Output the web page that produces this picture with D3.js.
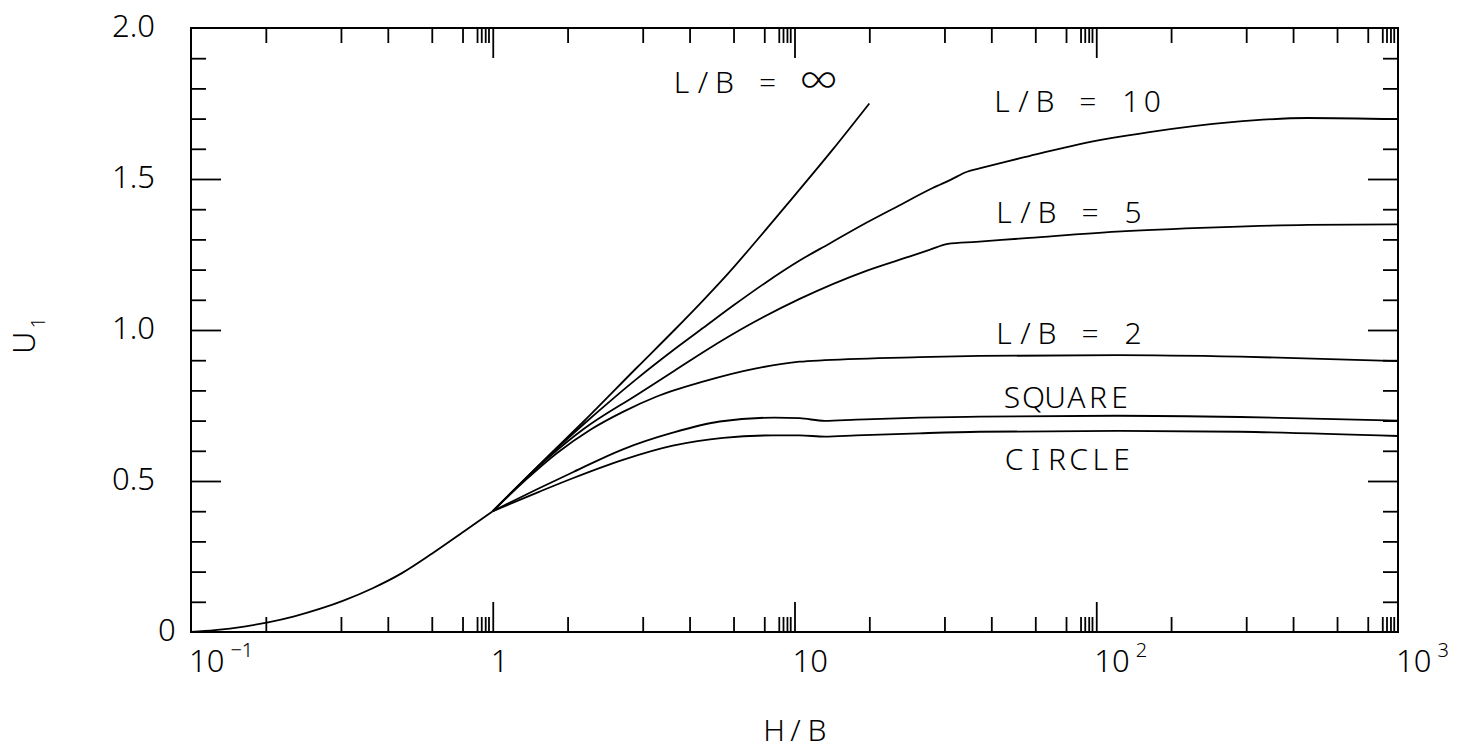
<!DOCTYPE html>
<html>
<head>
<meta charset="utf-8">
<script src="https://cdn.jsdelivr.net/npm/d3@7"></script>
<style>
  body { margin: 0; background: #fff; }
  text { font-family: "Noto Sans", "DejaVu Sans", sans-serif; font-weight: 300; fill: #000; }
  tspan.sym { font-family: Inter, Lato, "DejaVu Sans", sans-serif; font-weight: 200; }
</style>
</head>
<body>
<div id="chart"></div>
<script>
// common stem, H/B < 1
const stemHB = [0.1, 0.12, 0.15, 0.18, 0.22, 0.27, 0.32, 0.4, 0.5, 0.63, 0.8, 1];
const stemU  = [0, 0.006, 0.018, 0.032, 0.052, 0.078, 0.104, 0.145, 0.195, 0.26, 0.332, 0.4];

// branches, H/B >= 1
const infHB  = [1, 1.5, 2, 3, 4, 5, 6, 8, 10, 13.4, 17.7];
const infU   = [0.4, 0.575, 0.697, 0.875, 1.0, 1.1, 1.185, 1.33, 1.445, 1.598, 1.75];

const lb10HB = [1, 1.5, 2, 2.5, 3, 4, 5, 6.25, 8, 10.4, 13, 17.3, 22, 28.7, 33, 37.3, 41, 50, 60, 87.5, 150, 281, 500, 1000];
const lb10U  = [0.4, 0.574, 0.688, 0.772, 0.838, 0.936, 1.008, 1.08, 1.156, 1.23, 1.285, 1.355, 1.41, 1.47, 1.498, 1.524, 1.535, 1.557, 1.576, 1.615, 1.655, 1.688, 1.702, 1.698];

const lb5HB  = [1, 1.5, 2, 3, 4, 5.1, 7.1, 10.4, 17.3, 24, 28, 32.2, 40, 60, 117, 250, 502, 1000];
const lb5U   = [0.4, 0.57, 0.672, 0.785, 0.865, 0.933, 1.018, 1.103, 1.196, 1.243, 1.265, 1.285, 1.292, 1.305, 1.326, 1.34, 1.348, 1.35];

const lb2HB  = [1, 1.3, 1.63, 2.1, 2.7, 3.48, 4.97, 7.47, 10.4, 12.6, 25.9, 41, 117, 300, 1000];
const lb2U   = [0.4, 0.508, 0.592, 0.669, 0.729, 0.779, 0.829, 0.873, 0.895, 0.90, 0.91, 0.914, 0.917, 0.912, 0.897];

const sqHB   = [1, 1.43, 1.85, 2.7, 3.95, 5.65, 8.59, 10.4, 12.6, 16, 25.9, 41, 117, 300, 1000];
const sqU    = [0.4, 0.477, 0.53, 0.605, 0.66, 0.697, 0.71, 0.708, 0.699, 0.703, 0.71, 0.713, 0.716, 0.712, 0.70];

const ciHB   = [1, 1.43, 1.85, 2.7, 3.95, 5.8, 8.5, 10.4, 12.6, 16, 25.9, 41, 117, 300, 1000];
const ciU    = [0.4, 0.465, 0.51, 0.57, 0.617, 0.643, 0.651, 0.651, 0.647, 0.651, 0.658, 0.663, 0.666, 0.663, 0.649];

const seriesNames = ["L/B = ∞", "L/B = 10", "L/B = 5", "L/B = 2", "SQUARE", "CIRCLE"];
const labelHB = [3.92, 45.2, 45.9, 45.9, 48.8, 49.6];
const labelU  = [1.785, 1.722, 1.354, 0.954, 0.742, 0.536];

const yTicks = [0, 0.5, 1.0, 1.5, 2.0];
const yTickLabels = ["0", "0.5", "1.0", "1.5", "2.0"];
const yMinor = [0.1, 0.2, 0.3, 0.4, 0.6, 0.7, 0.8, 0.9, 1.1, 1.2, 1.3, 1.4, 1.6, 1.7, 1.8, 1.9];
const xDecades = [0.1, 1, 10, 100, 1000];
const xBase = ["10", "1", "10", "10", "10"];
const xExp  = ["−1", "", "", "2", "3"];
const minorSteps = [1.77, 3.14, 4.49, 6.28, 7.94, 8.87, 9.16, 9.44, 9.68];

const W = 1457, H = 750;
const CELL = 21.5;   // fixed character pitch of the plotter lettering
const svg = d3.select("#chart").append("svg")
    .attr("width", W)
    .attr("height", H)
    .style("display", "block");

const x = d3.scaleLog().domain([0.1, 1000]).range([191, 1398]);
const y = d3.scaleLinear().domain([0, 2]).range([632, 28]);

const xMinor = [];
xDecades.slice(0, 4).forEach(d => minorSteps.forEach(m => xMinor.push(d * m)));
const xMajorInner = [1, 10, 100];
const yMajorInner = [0.5, 1.0, 1.5];

function tickAxis(axis, vals, len) {
    return axis.tickValues(vals).tickSizeInner(-len).tickSizeOuter(0).tickFormat("");
}

const axes = [
    [d3.axisBottom(x), xMinor, 15, "translate(0,632)"],
    [d3.axisBottom(x), xMajorInner, 30, "translate(0,632)"],
    [d3.axisTop(x), xMinor, 15, "translate(0,28)"],
    [d3.axisTop(x), xMajorInner, 30, "translate(0,28)"],
    [d3.axisLeft(y), yMinor, 15, "translate(191,0)"],
    [d3.axisLeft(y), yMajorInner, 30, "translate(191,0)"],
    [d3.axisRight(y), yMinor, 15, "translate(1398,0)"],
    [d3.axisRight(y), yMajorInner, 30, "translate(1398,0)"]
];
axes.forEach(([ax, vals, len, tr]) => {
    const g = svg.append("g").attr("transform", tr).call(tickAxis(ax, vals, len));
    g.select(".domain").remove();
    g.selectAll(".tick line").attr("stroke", "#000").attr("stroke-width", 1.8);
});

// frame
svg.append("rect")
    .attr("x", x(0.1)).attr("y", y(2))
    .attr("width", x(1000) - x(0.1))
    .attr("height", y(0) - y(2))
    .attr("fill", "none")
    .attr("stroke", "#000")
    .attr("stroke-width", 2);

// curves
const line = d3.line()
    .x(d => x(d[0]))
    .y(d => y(d[1]))
    .curve(d3.curveMonotoneX);

const curves = [
    [stemHB, stemU],
    [infHB, infU],
    [lb10HB, lb10U],
    [lb5HB, lb5U],
    [lb2HB, lb2U],
    [sqHB, sqU],
    [ciHB, ciU]
];
svg.selectAll(".curve")
    .data(curves)
    .enter().append("path")
    .attr("class", "curve")
    .attr("d", c => line(d3.zip(c[0], c[1])))
    .attr("fill", "none")
    .attr("stroke", "#000")
    .attr("stroke-width", 1.8);

// lettering on a fixed pitch: each glyph centred in its own cell
function pitched(sel, str, x0, y0) {
    const t = sel.append("text").attr("y", y0).style("font-size", "30px");
    t.selectAll("tspan")
        .data(str.split(""))
        .enter().append("tspan")
        .attr("class", c => c === "∞" ? "sym" : null)
        .attr("x", (c, i) => x0 + i * CELL + CELL / 2)
        .attr("text-anchor", "middle")
        .style("font-size", c => c === "∞" ? "42px" : null)
        .attr("dx", c => c === "∞" ? 8 : 0)
        .text(c => c);
    return t;
}

seriesNames.forEach((name, i) => {
    pitched(svg, name, x(labelHB[i]) - 1, y(labelU[i]));
});

// y tick labels
svg.selectAll(".ylab")
    .data(yTicks)
    .enter().append("text")
    .attr("class", "ylab")
    .attr("x", d => d === 0 ? 158 : 112)
    .attr("y", d => y(d) + 9)
    .style("font-size", "31px")
    .text((d, i) => yTickLabels[i]);

// x tick labels with exponents
const xl = svg.selectAll(".xlab")
    .data(xDecades)
    .enter().append("text")
    .attr("class", "xlab")
    .attr("x", d => x(d) - 2)
    .attr("y", 672)
    .style("font-size", "31px");
xl.append("tspan").text((d, i) => xBase[i]);
xl.append("tspan")
    .attr("dx", 6)
    .attr("dy", -15)
    .style("font-size", "20px")
    .text((d, i) => xExp[i]);

// axis titles
pitched(svg, "H/B", (x(0.1) + x(1000)) / 2 + 1 - 1.5 * CELL, 741);

const yt = svg.append("text")
    .attr("transform", "translate(35,354) rotate(-90)")
    .style("font-size", "31px");
yt.append("tspan").text("U");
yt.append("tspan")
    .attr("dx", 3)
    .attr("dy", 10)
    .style("font-size", "20px")
    .text("1");
</script>
</body>
</html>
